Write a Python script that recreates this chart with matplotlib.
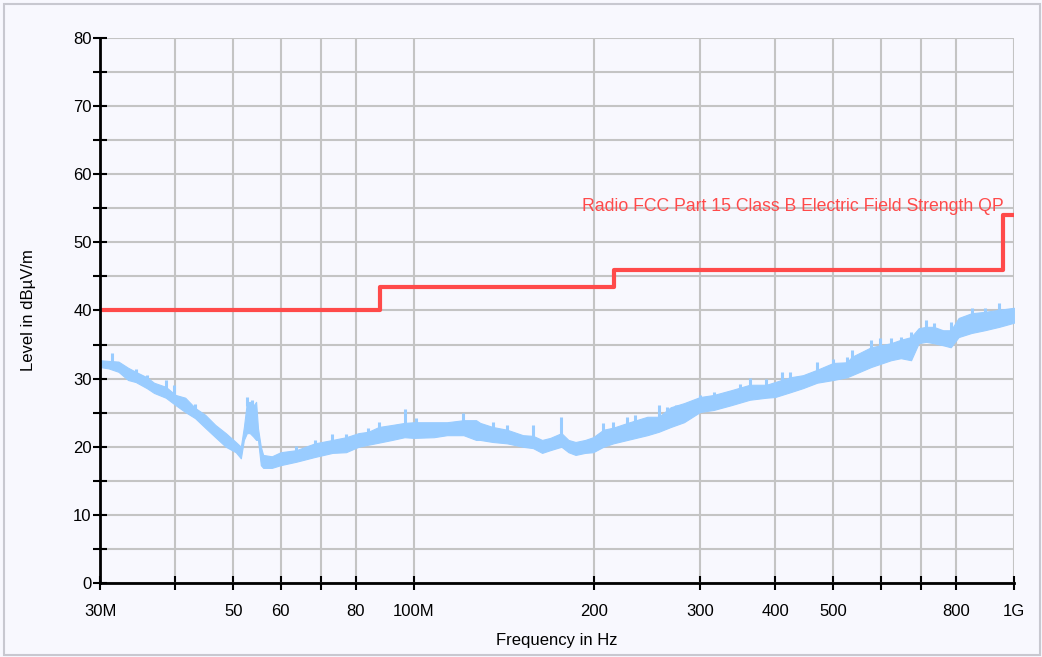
import matplotlib
matplotlib.use('Agg')
from matplotlib import pyplot as plt
import numpy as np

plt.rcParams['font.family'] = ['Liberation Sans', 'DejaVu Sans']

# measured trace, read as a band (lower / upper edge) in dBuV/m vs MHz
freq = [30.0, 31.0, 32.2, 33.4, 34.4, 35.9, 36.9, 38.6, 40.1, 41.6, 43.2, 44.9,
        46.7, 48.6, 50.5, 51.5, 52.1, 52.7, 53.3, 54.0, 54.6, 55.0, 55.6, 56.1,
        58.0, 60.0, 63.7, 68.4, 73.2, 77.1, 80.9, 84.0, 87.4, 92.0, 96.5, 100,
        108, 113.6, 121, 127, 129, 135.4, 143, 152, 158, 163.6, 168.8, 176.2,
        181, 186, 193, 199, 207, 215, 227, 245, 256, 268, 282, 300, 316, 338,
        363, 387, 400, 424, 445, 470, 500, 527, 537, 578, 624, 648, 674, 694,
        714, 735, 762, 785, 809, 850, 894, 945, 1000]
level_lo = [31.7, 31.5, 31.0, 29.8, 29.5, 28.6, 27.9, 27.2, 26.1, 25.1, 24.2, 22.8,
            21.4, 20.0, 19.2, 18.3, 21.0, 22.0, 22.0, 21.5, 21.0, 21.0, 17.3, 16.9,
            16.9, 17.3, 17.8, 18.5, 19.1, 19.2, 20.0, 20.3, 20.6, 21.0, 21.4, 21.3,
            21.4, 21.7, 21.7, 21.0, 21.0, 20.7, 20.5, 20.0, 19.8, 19.1, 19.5, 20.0,
            19.2, 18.8, 19.1, 19.2, 20.0, 20.5, 21.0, 21.7, 22.2, 22.9, 23.6, 25.1,
            25.4, 26.1, 26.9, 27.2, 27.3, 28.0, 28.6, 29.4, 29.8, 30.2, 30.5, 31.7,
            32.7, 33.0, 32.7, 35.2, 35.4, 35.2, 34.9, 34.6, 36.1, 36.7, 37.1, 37.6, 38.2]
level_hi = [32.7, 32.6, 32.5, 31.6, 31.0, 30.2, 29.4, 28.8, 27.6, 27.2, 25.7, 24.7,
            23.2, 22.0, 20.7, 20.0, 22.9, 26.5, 26.6, 26.0, 26.6, 22.7, 20.0, 18.8,
            18.6, 19.2, 19.5, 20.5, 21.0, 21.4, 22.0, 22.2, 22.9, 23.2, 23.5, 23.6,
            23.6, 23.6, 23.9, 23.9, 23.5, 22.9, 22.5, 21.7, 21.6, 21.0, 21.3, 22.0,
            21.0, 20.7, 21.0, 21.4, 22.5, 22.8, 23.5, 24.4, 24.4, 25.8, 26.4, 27.3,
            27.6, 28.3, 29.1, 29.1, 29.5, 30.2, 30.5, 31.3, 32.3, 32.4, 33.2, 34.6,
            35.2, 35.7, 36.1, 37.4, 37.6, 37.6, 37.1, 37.1, 38.9, 39.6, 39.8, 40.1, 40.4]

# single-bin spikes above the band
spike_f = [31.4, 34.4, 35.9, 38.6, 39.8, 43.2, 52.7, 53.8, 63.7, 68.4, 73.2, 77.1,
           84.0, 87.4, 96.5, 101, 121, 135.4, 143, 158, 176.2, 207, 215, 227, 234,
           256, 264, 274, 300, 316, 350, 363, 387, 411, 424, 470, 500, 527, 537,
           578, 598, 624, 648, 674, 714, 735, 785, 850, 894, 945]
spike_base = [32.5, 30.8, 29.8, 28.5, 27.5, 25.5, 26.0, 25.5, 19.3, 20.3, 20.8, 21.2,
              22.0, 22.7, 23.3, 23.5, 23.7, 22.7, 22.3, 21.5, 21.8, 22.3, 22.6, 23.3, 23.4,
              24.2, 24.8, 25.5, 27.1, 27.4, 28.5, 28.9, 28.9, 29.8, 30.0, 31.1, 32.1, 32.2, 33.0,
              34.4, 34.6, 35.0, 35.5, 35.9, 37.4, 37.4, 36.9, 39.4, 39.6, 39.9]
spike_peak = [33.7, 31.4, 30.6, 29.8, 29.0, 26.3, 27.3, 26.8, 20.1, 21.0, 21.8, 21.8,
              22.8, 23.6, 25.5, 24.2, 24.9, 23.6, 23.2, 23.2, 24.4, 23.5, 23.6, 24.4, 24.7,
              26.1, 25.9, 26.1, 27.6, 28.0, 29.2, 30.1, 30.0, 31.0, 31.0, 32.4, 32.9, 33.2, 34.2,
              35.7, 35.9, 35.9, 36.1, 36.8, 38.6, 38.2, 38.3, 40.4, 40.4, 41.1]

# FCC Part 15 class B QP limit (step line)
limit_f = [30, 88, 88, 216, 216, 960, 960, 1000]
limit_db = [40, 40, 43.5, 43.5, 46, 46, 54, 54]
limit_name = 'Radio FCC Part 15 Class B Electric Field Strength QP'

xticks = [30, 40, 50, 60, 70, 80, 100, 200, 300, 400, 500, 600, 700, 800, 1000]
xlabels = ['30M', '', '50', '60', '', '80', '100M', '200', '300', '400', '500', '', '', '800', '1G']

bg = '#f8f8fe'
fig = plt.figure(figsize=(10.42, 6.57), dpi=100, facecolor=bg)
fig.patches.append(plt.Rectangle((0.004, 0.003), 0.994, 0.991, transform=fig.transFigure,
                                 fill=False, edgecolor='#c8c8d0', linewidth=1.5))
ax = fig.add_axes([0.096, 0.1126, 0.877, 0.8296], facecolor=bg)

ax.fill_between(freq, level_lo, level_hi, color='#99ccff', linewidth=0.8, edgecolor='#99ccff', zorder=3)
ax.vlines(spike_f, spike_base, spike_peak, color='#99ccff', linewidth=2.2, zorder=3)
ax.plot(limit_f, limit_db, color='#ff4a4a', linewidth=3, zorder=4)
ax.text(960, 55.3, limit_name, color='#ff4a4a', fontsize=12.7, ha='right', va='center', zorder=5)

ax.set_xscale('log')
ax.set_xlim(30, 1000)
ax.set_ylim(0, 80)
ax.set_xticks(xticks)
ax.set_xticklabels(xlabels)
ax.xaxis.set_minor_locator(matplotlib.ticker.NullLocator())
ax.set_yticks(np.arange(0, 81, 5))
ax.set_yticklabels([str(v) if v % 10 == 0 else '' for v in range(0, 81, 5)])
ax.tick_params(direction='inout', length=10, width=1.5, labelsize=12, colors='black')
ax.tick_params(axis='x', pad=10)
ax.tick_params(axis='y', pad=1)

ax.grid(True, color='#c4c4c4', linewidth=1.5, zorder=0)
ax.set_axisbelow(True)
for s in ['top', 'right']:
    ax.spines[s].set_visible(False)
for s in ['left', 'bottom']:
    ax.spines[s].set_linewidth(2)
    ax.spines[s].set_zorder(6)

ax.set_xlabel('Frequency in Hz', fontsize=12, labelpad=10)
ax.set_ylabel('Level in dBµV/m', fontsize=12, labelpad=27)

fig.savefig('out.png', dpi=100, facecolor=bg)
